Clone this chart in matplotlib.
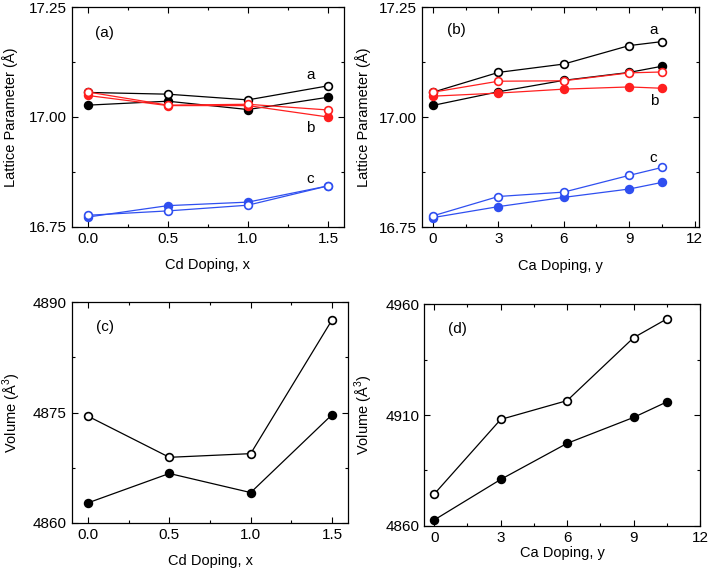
import matplotlib
matplotlib.use('Agg')
import matplotlib.pyplot as plt
from matplotlib.ticker import MultipleLocator, AutoMinorLocator, FixedLocator

plt.rcParams['font.family'] = ['Liberation Sans', 'DejaVu Sans']
plt.rcParams['mathtext.fontset'] = 'custom'
plt.rcParams['mathtext.rm'] = 'Liberation Sans'

# Cd doping series (panels a, c)
cd_x = [0.0, 0.5, 1.0, 1.5]
cd_a_open = [17.056, 17.052, 17.039, 17.071]
cd_a_fill = [17.027, 17.036, 17.017, 17.045]
cd_b_open = [17.057, 17.027, 17.029, 17.016]
cd_b_fill = [17.049, 17.026, 17.026, 17.000]
cd_c_open = [16.776, 16.786, 16.799, 16.843]
cd_c_fill = [16.772, 16.798, 16.806, 16.843]
cd_vol_open = [4874.5, 4868.9, 4869.4, 4887.6]
cd_vol_fill = [4862.7, 4866.7, 4864.1, 4874.7]

# Ca doping series (panels b, d)
ca_y = [0, 3, 6, 9, 10.5]
ca_a_open = [17.057, 17.102, 17.121, 17.163, 17.172]
ca_a_fill = [17.027, 17.058, 17.084, 17.102, 17.116]
ca_b_open = [17.057, 17.082, 17.083, 17.101, 17.103]
ca_b_fill = [17.048, 17.055, 17.064, 17.069, 17.066]
ca_c_open = [16.776, 16.820, 16.830, 16.868, 16.886]
ca_c_fill = [16.772, 16.797, 16.818, 16.837, 16.852]
ca_vol_open = [4874.3, 4908.0, 4916.5, 4944.9, 4953.4]
ca_vol_fill = [4862.6, 4880.9, 4897.2, 4908.9, 4915.9]

vol_d_ticks = [4860, 4910, 4960]

RED = '#ff1f1f'
BLUE = '#2f4ff0'
MS = 5.6
LW = 0.9

W, H = 709, 573
fig = plt.figure(figsize=(W / 100, H / 100), dpi=100)


def make_ax(l, r, t, b):
    return fig.add_axes([l / W, 1 - b / H, (r - l) / W, (b - t) / H])


def style(ax):
    ax.tick_params(which='both', direction='in', top=True, right=True,
                   labelsize=11, width=0.8)
    ax.tick_params(which='major', length=4.5)
    ax.tick_params(which='minor', length=2.5)
    for s in ax.spines.values():
        s.set_linewidth(0.9)


def series(ax, x, y, color, filled):
    ax.plot(x, y, '-o', color=color, lw=LW, ms=MS, mew=1.2,
            mec=color, mfc=color if filled else 'white')


def labels(ax, xl, yl, xy, yx):
    ax.set_xlabel(xl, fontsize=10.5, va='center')
    ax.set_ylabel(yl, fontsize=10.5, va='center')
    ax.xaxis.set_label_coords(0.5, xy)
    ax.yaxis.set_label_coords(yx, 0.5)


axa = make_ax(71.7, 344, 7.3, 226.7)
axb = make_ax(422, 699, 7.3, 227.3)
axc = make_ax(71.7, 348.3, 302.3, 522.7)
axd = make_ax(424.3, 700, 304.3, 525.7)

# (a)
for y, c, f in [(cd_a_fill, 'black', True), (cd_a_open, 'black', False),
                (cd_b_fill, RED, True), (cd_b_open, RED, False),
                (cd_c_fill, BLUE, True), (cd_c_open, BLUE, False)]:
    series(axa, cd_x, y, c, f)
axa.set_xlim(-0.1, 1.6)
axa.set_ylim(16.75, 17.25)
axa.xaxis.set_major_locator(MultipleLocator(0.5))
axa.xaxis.set_minor_locator(AutoMinorLocator(2))
axa.yaxis.set_major_locator(MultipleLocator(0.25))
axa.yaxis.set_minor_locator(AutoMinorLocator(2))
axa.xaxis.set_major_formatter(lambda v, p: f'{v:.1f}')
axa.yaxis.set_major_formatter(lambda v, p: f'{v:.2f}')
axa.text(0.048, 17.192, '(a)', fontsize=11, va='center')
axa.text(1.365, 17.096, 'a', fontsize=11, va='center')
axa.text(1.365, 16.976, 'b', fontsize=11, va='center')
axa.text(1.365, 16.859, 'c', fontsize=11, va='center')
labels(axa, 'Cd Doping, x', 'Lattice Parameter (Å)', -0.174, -0.227)

# (b)
for y, c, f in [(ca_a_fill, 'black', True), (ca_a_open, 'black', False),
                (ca_b_fill, RED, True), (ca_b_open, RED, False),
                (ca_c_fill, BLUE, True), (ca_c_open, BLUE, False)]:
    series(axb, ca_y, y, c, f)
axb.set_xlim(-0.5, 12.2)
axb.set_ylim(16.75, 17.25)
axb.xaxis.set_major_locator(MultipleLocator(3))
axb.xaxis.set_minor_locator(AutoMinorLocator(2))
axb.yaxis.set_major_locator(MultipleLocator(0.25))
axb.yaxis.set_minor_locator(AutoMinorLocator(2))
axb.yaxis.set_major_formatter(lambda v, p: f'{v:.2f}')
axb.text(0.64, 17.198, '(b)', fontsize=11, va='center')
axb.text(9.94, 17.198, 'a', fontsize=11, va='center')
axb.text(9.94, 17.037, 'b', fontsize=11, va='center')
axb.text(9.94, 16.908, 'c', fontsize=11, va='center')
labels(axb, 'Ca Doping, y', 'Lattice Parameter (Å)', -0.174, -0.212)

# (c)
series(axc, cd_x, cd_vol_fill, 'black', True)
series(axc, cd_x, cd_vol_open, 'black', False)
axc.set_xlim(-0.1, 1.6)
axc.set_ylim(4860, 4890)
axc.xaxis.set_major_locator(MultipleLocator(0.5))
axc.xaxis.set_minor_locator(AutoMinorLocator(2))
axc.yaxis.set_major_locator(MultipleLocator(15))
axc.yaxis.set_minor_locator(AutoMinorLocator(2))
axc.xaxis.set_major_formatter(lambda v, p: f'{v:.1f}')
axc.text(0.05, 4886.7, '(c)', fontsize=11, va='center')
labels(axc, 'Cd Doping, x', 'Volume (Å$^3$)', -0.174, -0.217)

# (d)
series(axd, ca_y, ca_vol_fill, 'black', True)
series(axd, ca_y, ca_vol_open, 'black', False)
axd.set_xlim(-0.45, 12)
axd.set_ylim(4860, 4960)
axd.xaxis.set_major_locator(MultipleLocator(3))
axd.xaxis.set_minor_locator(AutoMinorLocator(2))
axd.yaxis.set_major_locator(FixedLocator(vol_d_ticks))
axd.yaxis.set_minor_locator(AutoMinorLocator(2))
axd.text(0.63, 4949, '(d)', fontsize=11, va='center')
labels(axd, 'Ca Doping, y', 'Volume (Å$^3$)', -0.122, -0.221)

for ax in (axa, axb, axc, axd):
    style(ax)

fig.savefig('out.png', dpi=100)
